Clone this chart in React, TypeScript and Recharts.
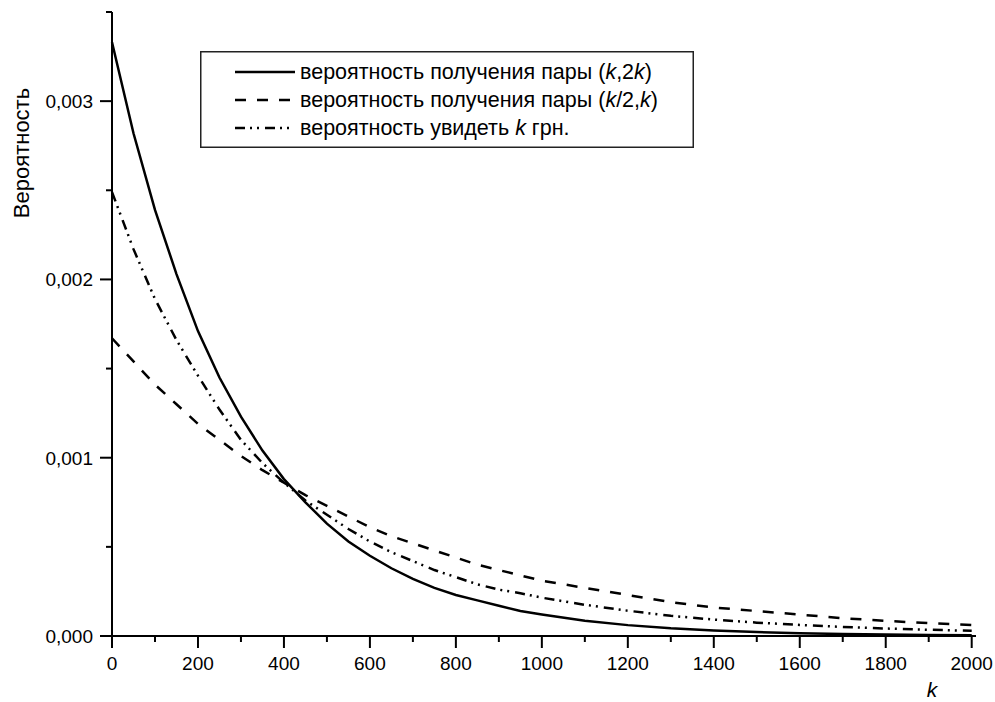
import { LineChart, Line, XAxis, YAxis, Legend } from "recharts";

const K = [
  0, 50, 100, 150, 200, 250, 300, 350, 400, 450, 500, 550, 600, 650, 700, 750, 800, 850, 900, 950,
  1000, 1100, 1200, 1300, 1400, 1500, 1600, 1700, 1800, 1900, 2000,
];

// вероятность получения пары (k,2k)
const PAIR_K_2K = [
  0.00333, 0.00282, 0.00239, 0.00203, 0.00171, 0.00145, 0.00123, 0.00104, 0.00088, 0.00075,
  0.00063, 0.00053, 0.00045, 0.00038, 0.00032, 0.00027, 0.00023, 0.0002, 0.00017, 0.00014,
  0.00012, 0.000085, 0.000061, 0.000043, 0.000031, 0.000022, 0.000016, 0.000011, 0.000008,
  0.000006, 0.000004,
];

// вероятность получения пары (k/2,k)
const PAIR_HALF_K = [
  0.00167, 0.00154, 0.00141, 0.0013, 0.00119, 0.0011, 0.00101, 0.00093, 0.00086, 0.00079,
  0.00073, 0.00067, 0.00061, 0.00056, 0.00052, 0.00048, 0.00044, 0.0004, 0.00037, 0.00034,
  0.00031, 0.00027, 0.00023, 0.00019, 0.00016, 0.00014, 0.00012, 0.0001, 0.000085, 0.000072,
  0.000061,
];

// вероятность увидеть k грн.
const SEE_K = [
  0.00249, 0.00217, 0.00189, 0.00166, 0.00146, 0.00127, 0.0011, 0.00097, 0.00086, 0.00076,
  0.00068, 0.0006, 0.00053, 0.00047, 0.00042, 0.00037, 0.00033, 0.00029, 0.00026, 0.00024,
  0.000215, 0.000175, 0.000142, 0.000113, 0.000092, 0.000075, 0.000062, 0.000051, 0.000042,
  0.000035, 0.000029,
];

const X_TICKS = [
  0, 100, 200, 300, 400, 500, 600, 700, 800, 900, 1000, 1100, 1200, 1300, 1400, 1500, 1600,
  1700, 1800, 1900, 2000,
];
const Y_TICKS = [0, 0.0005, 0.001, 0.0015, 0.002, 0.0025, 0.003, 0.0035];

// *...* marks italic parts
const SERIES = [
  { key: "pair2k", label: "вероятность получения пары (*k*,2*k*)", dash: undefined },
  { key: "pairHalf", label: "вероятность получения пары (*k*/2,*k*)", dash: "11 11" },
  { key: "see", label: "вероятность увидеть *k* грн.", dash: "10 5 2 5 2 6" },
];

const FONT = "'Liberation Sans', Arial, sans-serif";

const data = K.map((k, i) => ({
  k,
  pair2k: PAIR_K_2K[i],
  pairHalf: PAIR_HALF_K[i],
  see: SEE_K[i],
}));

function renderLabel(label: string) {
  return label.split("*").map((part, i) => (
    <tspan key={i} fontStyle={i % 2 === 1 ? "italic" : "normal"}>
      {part}
    </tspan>
  ));
}

function XTick(props: any) {
  const { x, y, payload } = props;
  const major = payload.value % 200 === 0;
  return (
    <g>
      <line x1={x} x2={x} y1={y} y2={y + (major ? 12 : 6)} stroke="#000" strokeWidth={2} />
      {major && (
        <text x={x} y={y + 34} textAnchor="middle" fontSize={19} fontFamily={FONT} fill="#000">
          {payload.value}
        </text>
      )}
    </g>
  );
}

function YTick(props: any) {
  const { x, y, payload } = props;
  const major = Math.round(payload.value * 10000) % 10 === 0;
  return (
    <g>
      <line x1={x - (major ? 12 : 6)} x2={x} y1={y} y2={y} stroke="#000" strokeWidth={2} />
      {major && (
        <text x={x - 19} y={y + 7} textAnchor="end" fontSize={19} fontFamily={FONT} fill="#000">
          {payload.value.toFixed(3).replace(".", ",")}
        </text>
      )}
    </g>
  );
}

function LegendBox() {
  return (
    <svg width={494} height={97} style={{ display: "block" }}>
      <rect x={0.75} y={0.75} width={492.5} height={95.5} fill="#fff" stroke="#222" strokeWidth={1.5} />
      {SERIES.map((s, i) => {
        const cy = 21 + i * 28;
        return (
          <g key={s.key}>
            <line x1={35} x2={95} y1={cy} y2={cy} stroke="#000" strokeWidth={2.5} strokeDasharray={s.dash} />
            <text x={100} y={cy + 6.5} fontSize={21.5} fontFamily={FONT} fill="#000">
              {renderLabel(s.label)}
            </text>
          </g>
        );
      })}
    </svg>
  );
}

export default function App() {
  return (
    <div style={{ position: "absolute", left: 0, top: 0, width: 995, height: 702, background: "#fff", overflow: "hidden" }}>
      <LineChart width={995} height={702} data={data} margin={{ top: 12, right: 19, bottom: 36, left: 0 }}>
        <XAxis
          dataKey="k"
          type="number"
          height={30}
          domain={[0, 2010]}
          ticks={X_TICKS}
          interval={0}
          tickSize={0}
          tickMargin={0}
          tick={<XTick />}
          axisLine={{ stroke: "#000", strokeWidth: 2 }}
        />
        <YAxis
          type="number"
          width={112}
          domain={[0, 0.0035]}
          ticks={Y_TICKS}
          interval={0}
          tickSize={0}
          tickMargin={0}
          tick={<YTick />}
          axisLine={{ stroke: "#000", strokeWidth: 2 }}
        />
        <Legend
          layout="vertical"
          align="center"
          verticalAlign="middle"
          wrapperStyle={{ left: 200, top: 51, width: 494, height: 97 }}
          content={() => <LegendBox />}
        />
        {SERIES.map((s) => (
          <Line
            key={s.key}
            type="linear"
            dataKey={s.key}
            stroke="#000"
            strokeWidth={2.5}
            strokeDasharray={s.dash}
            dot={false}
            activeDot={false}
            isAnimationActive={false}
          />
        ))}
      </LineChart>
      <svg width={995} height={702} style={{ position: "absolute", left: 0, top: 0, pointerEvents: "none" }}>
        <text
          x={29}
          y={153}
          transform="rotate(-90 29 153)"
          textAnchor="middle"
          fontSize={22}
          fontFamily={FONT}
          fill="#000"
        >
          Вероятность
        </text>
        <text x={932} y={697} textAnchor="middle" fontSize={21} fontStyle="italic" fontFamily={FONT} fill="#000">
          k
        </text>
      </svg>
    </div>
  );
}
